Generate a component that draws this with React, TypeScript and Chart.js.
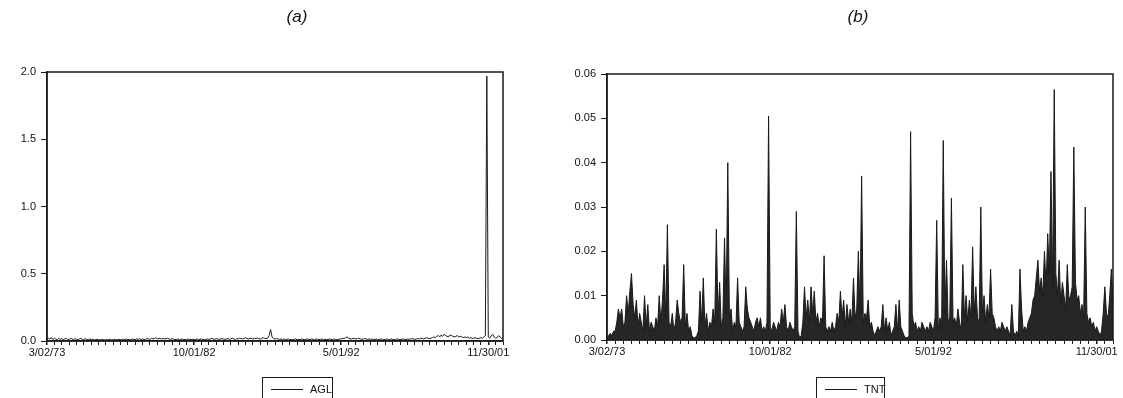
import React, { useEffect, useRef } from "react";
import { Chart, registerables } from "chart.js";

Chart.register(...registerables);

// Tick labels of the x axis (one every 100 samples, i.e. every 500 weekly observations)
const tickLabels = ["3/02/73", "10/01/82", "5/01/92", "11/30/01"];
const samplesPerLabel = 100;

// Panel (a): AGL
const aglValues = [
  0.010, 0.020, 0.015, 0.025, 0.010, 0.020, 0.015, 0.010, 0.020, 0.012,
  0.018, 0.010, 0.015, 0.020, 0.010, 0.012, 0.020, 0.015, 0.010, 0.018,
  0.012, 0.010, 0.015, 0.020, 0.012, 0.010, 0.018, 0.012, 0.010, 0.015,
  0.010, 0.012, 0.008, 0.010, 0.012, 0.010, 0.008, 0.012, 0.010, 0.008,
  0.010, 0.008, 0.012, 0.010, 0.008, 0.010, 0.012, 0.008, 0.010, 0.012,
  0.010, 0.008, 0.012, 0.010, 0.015, 0.010, 0.012, 0.010, 0.015, 0.012,
  0.010, 0.015, 0.012, 0.018, 0.010, 0.015, 0.012, 0.010, 0.018, 0.015,
  0.012, 0.020, 0.015, 0.018, 0.025, 0.015, 0.020, 0.018, 0.015, 0.020,
  0.015, 0.018, 0.020, 0.015, 0.012, 0.018, 0.015, 0.010, 0.012, 0.015,
  0.010, 0.012, 0.015, 0.010, 0.012, 0.010, 0.015, 0.012, 0.010, 0.012,
  0.010, 0.012, 0.015, 0.010, 0.012, 0.015, 0.010, 0.012, 0.010, 0.015,
  0.012, 0.015, 0.020, 0.015, 0.012, 0.018, 0.015, 0.012, 0.015, 0.018,
  0.015, 0.012, 0.015, 0.018, 0.012, 0.015, 0.020, 0.015, 0.012, 0.018,
  0.015, 0.020, 0.018, 0.015, 0.020, 0.025, 0.018, 0.015, 0.020, 0.018,
  0.015, 0.020, 0.018, 0.022, 0.018, 0.015, 0.020, 0.025, 0.020, 0.018,
  0.020, 0.040, 0.085, 0.030, 0.018, 0.015, 0.020, 0.015, 0.012, 0.015,
  0.012, 0.015, 0.010, 0.012, 0.015, 0.010, 0.012, 0.010, 0.012, 0.015,
  0.010, 0.012, 0.010, 0.015, 0.012, 0.010, 0.012, 0.015, 0.010, 0.012,
  0.015, 0.012, 0.010, 0.015, 0.012, 0.010, 0.012, 0.015, 0.010, 0.012,
  0.010, 0.012, 0.015, 0.012, 0.010, 0.015, 0.012, 0.010, 0.012, 0.015,
  0.015, 0.020, 0.018, 0.025, 0.030, 0.020, 0.018, 0.015, 0.020, 0.018,
  0.015, 0.018, 0.020, 0.015, 0.012, 0.015, 0.018, 0.015, 0.012, 0.015,
  0.012, 0.015, 0.010, 0.012, 0.015, 0.010, 0.012, 0.015, 0.012, 0.010,
  0.012, 0.015, 0.012, 0.010, 0.015, 0.012, 0.010, 0.012, 0.015, 0.012,
  0.010, 0.012, 0.015, 0.012, 0.010, 0.015, 0.012, 0.015, 0.018, 0.015,
  0.012, 0.015, 0.018, 0.015, 0.020, 0.018, 0.015, 0.020, 0.025, 0.020,
  0.018, 0.020, 0.025, 0.030, 0.025, 0.035, 0.040, 0.030, 0.045, 0.035,
  0.050, 0.040, 0.035, 0.030, 0.045, 0.040, 0.035, 0.030, 0.035, 0.040,
  0.030, 0.035, 0.030, 0.025, 0.030, 0.025, 0.030, 0.020, 0.025, 0.020,
  0.020, 0.025, 0.020, 0.018, 0.020, 0.025, 0.020, 0.030, 0.040, 1.970,
  0.030, 0.020, 0.040, 0.050, 0.030, 0.020, 0.025, 0.040, 0.030, 0.020,
  0.030,
];

// Panel (b): TNT
const tntValues = [
  0.0005, 0.001, 0.0015, 0.001, 0.002, 0.002, 0.004, 0.007, 0.005, 0.007,
  0.003, 0.004, 0.010, 0.006, 0.011, 0.015, 0.008, 0.005, 0.009, 0.003,
  0.006, 0.004, 0.002, 0.010, 0.003, 0.008, 0.002, 0.004, 0.003, 0.002,
  0.005, 0.003, 0.010, 0.004, 0.009, 0.017, 0.005, 0.026, 0.004, 0.003,
  0.006, 0.002, 0.004, 0.009, 0.006, 0.004, 0.005, 0.017, 0.003, 0.006,
  0.002, 0.003, 0.001, 0.0005, 0.0005, 0.001, 0.002, 0.011, 0.004, 0.014,
  0.003, 0.006, 0.002, 0.004, 0.003, 0.007, 0.004, 0.025, 0.005, 0.013,
  0.003, 0.005, 0.023, 0.006, 0.040, 0.005, 0.007, 0.002, 0.004, 0.003,
  0.014, 0.004, 0.003, 0.002, 0.003, 0.012, 0.007, 0.005, 0.004, 0.003,
  0.002, 0.004, 0.005, 0.003, 0.005, 0.002, 0.003, 0.002, 0.004, 0.0505,
  0.003, 0.002, 0.004, 0.003, 0.002, 0.004, 0.003, 0.007, 0.004, 0.008,
  0.003, 0.002, 0.004, 0.003, 0.002, 0.003, 0.029, 0.002, 0.0005, 0.001,
  0.004, 0.012, 0.005, 0.009, 0.004, 0.012, 0.006, 0.011, 0.004, 0.006,
  0.003, 0.005, 0.004, 0.019, 0.003, 0.002, 0.003, 0.002, 0.004, 0.002,
  0.003, 0.006, 0.004, 0.011, 0.005, 0.009, 0.003, 0.008, 0.004, 0.007,
  0.004, 0.014, 0.005, 0.007, 0.020, 0.006, 0.037, 0.004, 0.006, 0.005,
  0.009, 0.003, 0.004, 0.002, 0.001, 0.002, 0.003, 0.002, 0.003, 0.008,
  0.002, 0.005, 0.002, 0.004, 0.001, 0.002, 0.003, 0.008, 0.002, 0.009,
  0.003, 0.002, 0.001, 0.0005, 0.0005, 0.001, 0.047, 0.006, 0.003, 0.004,
  0.002, 0.003, 0.002, 0.004, 0.003, 0.002, 0.003, 0.002, 0.004, 0.003,
  0.002, 0.005, 0.027, 0.002, 0.005, 0.003, 0.045, 0.006, 0.018, 0.004,
  0.005, 0.032, 0.004, 0.005, 0.003, 0.007, 0.004, 0.002, 0.017, 0.005,
  0.010, 0.004, 0.009, 0.005, 0.021, 0.006, 0.012, 0.005, 0.004, 0.030,
  0.006, 0.010, 0.004, 0.008, 0.005, 0.016, 0.006, 0.005, 0.003, 0.002,
  0.003, 0.002, 0.004, 0.003, 0.002, 0.003, 0.002, 0.001, 0.008, 0.002,
  0.001, 0.002, 0.001, 0.016, 0.007, 0.002, 0.003, 0.002, 0.004, 0.005,
  0.006, 0.009, 0.010, 0.014, 0.018, 0.011, 0.014, 0.010, 0.020, 0.012,
  0.024, 0.015, 0.038, 0.012, 0.0565, 0.015, 0.010, 0.018, 0.008, 0.013,
  0.010, 0.007, 0.017, 0.009, 0.010, 0.012, 0.0435, 0.013, 0.009, 0.010,
  0.006, 0.008, 0.005, 0.030, 0.006, 0.004, 0.005, 0.003, 0.004, 0.002,
  0.003, 0.002, 0.001, 0.002, 0.006, 0.012, 0.006, 0.005, 0.010, 0.016,
  0.009,
];

const INK = "#1a1a1a";
const FONT = "'Liberation Sans', Arial, sans-serif";

function buildLabels(n: number): string[] {
  const out: string[] = [];
  for (let i = 0; i < n; i++) {
    const k = i / samplesPerLabel;
    out.push(i % samplesPerLabel === 0 && k < tickLabels.length ? tickLabels[k] : "");
  }
  return out;
}

const framePlugin = {
  id: "frame",
  afterDraw(chart: any) {
    const { ctx, chartArea } = chart;
    ctx.save();
    ctx.strokeStyle = INK;
    ctx.lineWidth = 1.5;
    ctx.strokeRect(chartArea.left, chartArea.top, chartArea.right - chartArea.left, chartArea.bottom - chartArea.top);
    ctx.restore();
  },
};

type PanelProps = {
  left: number;
  width: number;
  values: number[];
  yMax: number;
  yStep: number;
  decimals: number;
  pad: { top: number; right: number; bottom: number };
  fill: boolean;
};

function Panel({ left, width, values, yMax, yStep, decimals, pad, fill }: PanelProps) {
  const ref = useRef<HTMLCanvasElement | null>(null);
  useEffect(() => {
    if (!ref.current) return;
    const labels = buildLabels(values.length);
    const chart = new Chart(ref.current, {
      type: "line",
      data: {
        labels,
        datasets: [
          {
            data: values,
            borderColor: INK,
            backgroundColor: "#262626",
            borderWidth: 1,
            pointRadius: 0,
            tension: 0,
            fill: fill ? "origin" : false,
          },
        ],
      },
      options: {
        animation: false,
        responsive: false,
        maintainAspectRatio: false,
        layout: { padding: { top: pad.top, right: pad.right, bottom: pad.bottom, left: 0 } },
        plugins: { legend: { display: false }, title: { display: false }, tooltip: { enabled: false } },
        scales: {
          x: {
            type: "category",
            offset: false,
            border: { color: INK, width: 1.5 },
            grid: {
              drawOnChartArea: false,
              tickLength: 4,
              color: (c: any) => (c.index % 5 === 0 ? INK : "rgba(0,0,0,0)"),
              lineWidth: (c: any) => (c.index % samplesPerLabel === 0 ? 1.5 : 1),
            },
            ticks: {
              autoSkip: false,
              maxRotation: 0,
              minRotation: 0,
              padding: 1,
              color: "#111",
              font: { family: FONT, size: 11 },
              callback: (_v: any, i: number) => labels[i],
            },
            afterFit: (s: any) => {
              s.height = 20;
            },
          },
          y: {
            min: 0,
            max: yMax,
            border: { color: INK, width: 1.5 },
            grid: { drawOnChartArea: false, tickLength: 6, color: INK },
            ticks: {
              stepSize: yStep,
              padding: 5,
              color: "#111",
              font: { family: FONT, size: 11 },
              callback: (v: any) => Number(v).toFixed(decimals),
            },
            afterFit: (s: any) => {
              s.width = 47;
            },
          },
        },
      },
      plugins: [framePlugin],
    });
    return () => chart.destroy();
  }, []);
  return (
    <div style={{ position: "absolute", left, top: 0, width, height: 398 }}>
      <canvas ref={ref} width={width} height={398} style={{ width, height: 398, display: "block" }} />
    </div>
  );
}

function Title({ text, cx }: { text: string; cx: number }) {
  return (
    <div
      style={{
        position: "absolute",
        left: cx - 40,
        top: 7,
        width: 80,
        textAlign: "center",
        fontFamily: FONT,
        fontStyle: "italic",
        fontSize: 17,
        color: "#111",
      }}
    >
      {text}
    </div>
  );
}

function LegendBox({ text, left, width }: { text: string; left: number; width: number }) {
  return (
    <div
      style={{
        position: "absolute",
        left,
        top: 377,
        width,
        height: 26,
        border: `1px solid ${INK}`,
        boxSizing: "border-box",
        fontFamily: FONT,
        fontSize: 11,
        color: "#111",
      }}
    >
      <div style={{ position: "absolute", left: 8, top: 11, width: 32, height: 1, background: INK }} />
      <div style={{ position: "absolute", left: 47, top: 5, lineHeight: "12px" }}>{text}</div>
    </div>
  );
}

export default function App() {
  return (
    <div style={{ position: "absolute", left: 0, top: 0, width: 1123, height: 398, background: "#fff", overflow: "hidden" }}>
      <Panel left={0} width={560} values={aglValues} yMax={2} yStep={0.5} decimals={1} pad={{ top: 72, right: 57, bottom: 37 }} fill={false} />
      <Panel left={560} width={563} values={tntValues} yMax={0.06} yStep={0.01} decimals={2} pad={{ top: 74, right: 10, bottom: 38 }} fill={true} />
      <Title text="(a)" cx={297} />
      <Title text="(b)" cx={858} />
      <LegendBox text="AGL" left={262} width={71} />
      <LegendBox text="TNT" left={816} width={69} />
    </div>
  );
}
